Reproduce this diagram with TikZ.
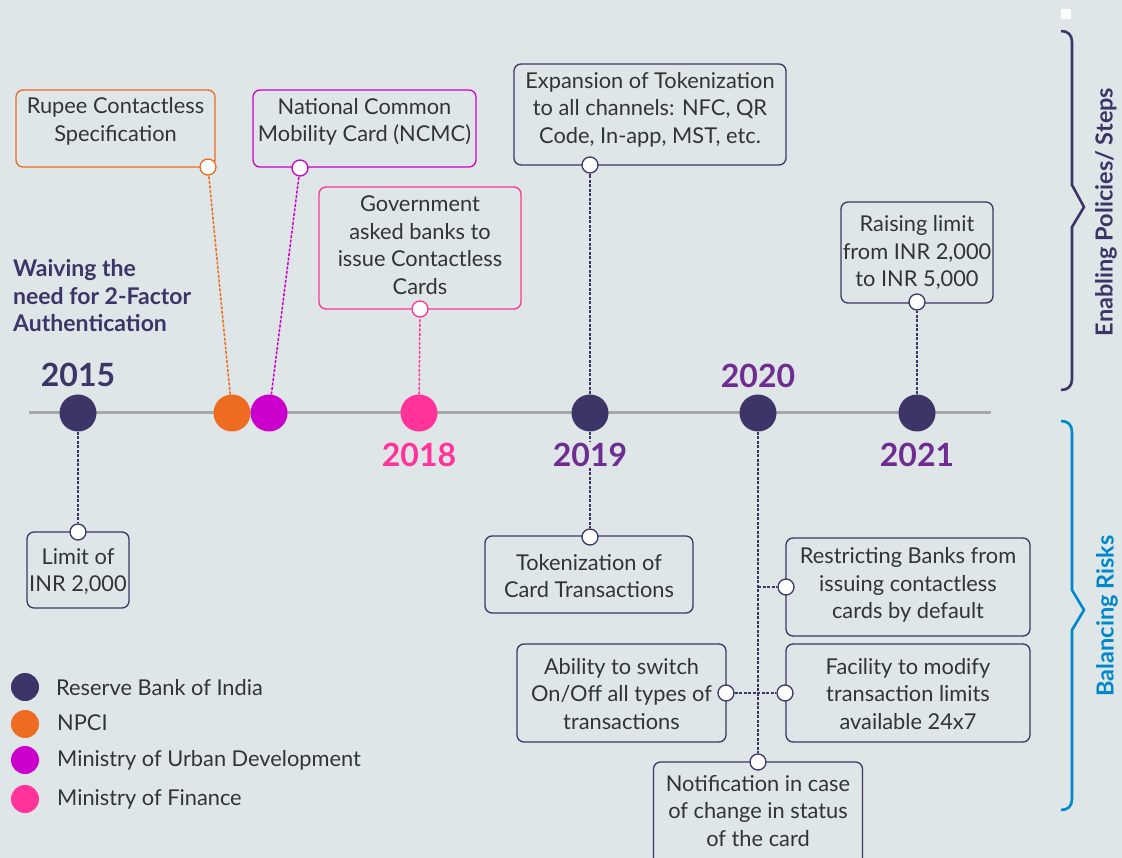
\documentclass[tikz,border=0pt]{standalone}
\usepackage{fontspec}
\setmainfont{Lato}
\definecolor{bg}{HTML}{DFE6E8}
\definecolor{rbi}{HTML}{3D3468}
\definecolor{npci}{HTML}{EE6B22}
\definecolor{moud}{HTML}{CC00CC}
\definecolor{mof}{HTML}{FF3399}
\definecolor{yr}{HTML}{6F2C91}
\definecolor{risk}{HTML}{0088CC}
\definecolor{tl}{HTML}{A8A8A8}
\definecolor{txtc}{HTML}{333333}
\tikzset{
  box/.style={draw=#1, line width=1.3pt, rounded corners=7pt, inner sep=0pt},
  sc/.style={circle, draw=#1, fill=white, line width=1.3pt, minimum size=16pt, inner sep=0pt},
  dot/.style={circle, fill=#1, minimum size=37pt, inner sep=0pt},
  legdot/.style={circle, fill=#1, minimum size=28pt, inner sep=0pt},
  conn/.style={draw=#1, line width=1.5pt, dash pattern=on 3pt off 1.5pt},
  txt/.style={text=txtc, align=center, font=\fontsize{21.8}{27.5}\selectfont, inner sep=0pt},
  legtxt/.style={text=txtc, anchor=west, font=\fontsize{21.8}{27.5}\selectfont, inner sep=0pt},
  yearlbl/.style={font=\fontsize{32}{32}\selectfont\bfseries, text=#1, inner sep=1pt, fill=bg},
  brace/.style={draw=#1, line width=2.6pt, line join=miter, rounded corners=0pt},
  sidetxt/.style={rotate=90, font=\fontsize{23.5}{26}\selectfont\bfseries, text=#1, inner sep=0pt}
}
\begin{document}
\begin{tikzpicture}[x=1pt,y=-1pt]
\useasboundingbox (0,0) rectangle (1122,858);
\fill[bg] (0,0) rectangle (1122,858);
\clip (0,0) rectangle (1122,858);

% timeline
\coordinate (tlA) at (29,413);
\coordinate (tlB) at (991,413);
\draw[tl, line width=3pt] (tlA) -- (tlB);

% boxes
\node[box=npci, minimum width=199pt, minimum height=77pt] (rupee) at (115.5,128.5) {};
\node[txt] at (115.5,121.5) {Rupee Contactless\\Specification};
\node[box=moud, minimum width=223pt, minimum height=77pt] (ncmc) at (364.5,128.5) {};
\node[txt] at (364.5,122) {National Common\\Mobility Card (NCMC)};
\node[box=mof, minimum width=202pt, minimum height=122pt] (gov) at (420,248) {};
\node[txt] at (420,245) {Government\\asked banks to\\issue Contactless\\Cards};
\node[box=rbi, minimum width=272pt, minimum height=101pt] (exp) at (650,114.5) {};
\node[txt] at (650,109.5) {Expansion of Tokenization\\to all channels: NFC, QR\\Code, In-app, MST, etc.};
\node[box=rbi, minimum width=152pt, minimum height=101pt] (raise) at (917,252.5) {};
\node[txt] at (917,252.5) {Raising limit\\from INR 2,000\\to INR 5,000};
\node[box=rbi, minimum width=102pt, minimum height=76pt] (limit) at (78,570) {};
\node[txt] at (78,571.5) {Limit of\\INR 2,000};
\node[box=rbi, minimum width=208pt, minimum height=77pt] (token) at (589,574.5) {};
\node[txt] at (589,576) {Tokenization of\\Card Transactions};
\node[box=rbi, minimum width=244pt, minimum height=98pt] (restrict) at (908,587) {};
\node[txt] at (908,585) {Restricting Banks from\\issuing contactless\\cards by default};
\node[box=rbi, minimum width=244pt, minimum height=98pt] (facility) at (908,693) {};
\node[txt] at (908,694) {Facility to modify\\transaction limits\\available 24x7};
\node[box=rbi, minimum width=209pt, minimum height=98pt] (ability) at (621.5,693) {};
\node[txt] at (621.5,694) {Ability to switch\\On/Off all types of\\transactions};
\node[box=rbi, minimum width=209pt, minimum height=110pt] (notif) at (758,817) {};
\node[txt] at (758,811) {Notification in case\\of change in status\\of the card};

% small connector circles
\node[sc=npci] (scRupee) at (208,167) {};
\node[sc=moud] (scNcmc) at (300,168) {};
\node[sc=mof] (scGov) at (420,309) {};
\node[sc=rbi] (scExp) at (590,165) {};
\node[sc=rbi] (scRaise) at (917,302) {};
\node[sc=rbi] (scLimit) at (78,532) {};
\node[sc=rbi] (scToken) at (590,537) {};
\node[sc=rbi] (scRestrict) at (786,587) {};
\node[sc=rbi] (scFacility) at (785,693) {};
\node[sc=rbi] (scAbility) at (726,693) {};
\node[sc=rbi] (scNotif) at (758,762) {};

% timeline dots
\node[dot=rbi] (d2015) at (78,413) {};
\node[dot=npci] (dNpci) at (232,413) {};
\node[dot=moud] (dMoud) at (269,413) {};
\node[dot=mof] (d2018) at (419,413) {};
\node[dot=rbi] (d2019) at (590,413) {};
\node[dot=rbi] (d2020) at (758,413) {};
\node[dot=rbi] (d2021) at (917,413) {};

% connectors
\draw[conn=npci] (dNpci) -- (scRupee);
\draw[conn=moud] (dMoud) -- (scNcmc);
\draw[conn=mof] (d2018) -- (scGov);
\draw[conn=rbi] (d2019) -- (scExp);
\draw[conn=rbi] (d2021) -- (scRaise);
\draw[conn=rbi] (d2015) -- (scLimit);
\draw[conn=rbi] (d2019) -- (scToken);
\draw[conn=rbi] (d2020) -- (scNotif);
\coordinate (j1) at (758,587);
\draw[conn=rbi] (j1) -- (scRestrict);
\draw[conn=rbi] (scAbility) -- (scFacility);

% years
\node[yearlbl=rbi] (y2015) at (78,375) {2015};
\node[yearlbl=yr] (y2020) at (758,376) {2020};
\node[yearlbl=mof] (y2018) at (419,455) {2018};
\node[yearlbl=yr] (y2019) at (590,455) {2019};
\node[yearlbl=yr] (y2021) at (917,455) {2021};

% waiving text
\node[anchor=west, align=left, text=rbi, inner sep=0pt, font=\fontsize{23}{27.5}\selectfont\bfseries] (waive) at (13,296) {Waiving the\\need for 2-Factor\\Authentication};

% legend
\node[legdot=rbi] (l1) at (25,687) {};
\node[legdot=npci] (l2) at (25,724) {};
\node[legdot=moud] (l3) at (25,760) {};
\node[legdot=mof] (l4) at (25,799) {};
\node[legtxt] (lt1) at (56,688) {Reserve Bank of India};
\node[legtxt] (lt2) at (57,723) {NPCI};
\node[legtxt] (lt3) at (57,760) {Ministry of Urban Development};
\node[legtxt] (lt4) at (57,799) {Ministry of Finance};

% white square
\fill[white] (1061,9) rectangle (1071,19);

% braces
\draw[brace=rbi] (1061,31) .. controls (1068,31) and (1072,35) .. (1072,42) -- (1072,185) -- (1084,207) -- (1072,227) -- (1072,379) .. controls (1072,386) and (1068,390) .. (1061,390);
\draw[brace=risk] (1061,421) .. controls (1068,421) and (1072,425) .. (1072,432) -- (1072,590) -- (1084,610) -- (1072,630) -- (1072,799) .. controls (1072,806) and (1068,810) .. (1061,810);
\node[sidetxt=rbi] (s1) at (1106,212) {Enabling Policies/ Steps};
\node[sidetxt=risk] (s2) at (1107,616) {Balancing Risks};
\end{tikzpicture}
\end{document}
